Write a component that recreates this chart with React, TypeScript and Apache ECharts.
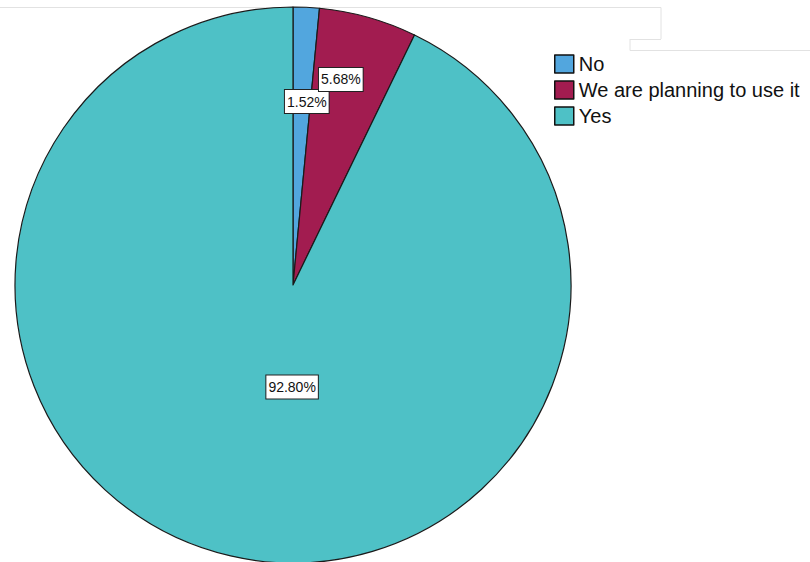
import React, { useEffect, useRef } from "react";
import * as echarts from "echarts";

const categories = ["No", "We are planning to use it", "Yes"];
const values = [1.52, 5.68, 92.8];
const colors = ["#52A6DE", "#A21C50", "#4EC1C6"];
// label anchor positions (polar: degrees clockwise from top, radius in px) — layout only
const labelPolar = [
  { angle: 4.3, r: 184 },
  { angle: 13.1, r: 211 },
  { angle: 180.5, r: 102 },
];

const CX = 293;
const CY = 285;
const R = 278;

export default function App() {
  const ref = useRef<HTMLDivElement>(null);
  useEffect(() => {
    if (!ref.current) return;
    const chart = echarts.init(ref.current, undefined, { renderer: "svg" });
    chart.setOption({
      animation: false,
      backgroundColor: "#ffffff",
      textStyle: { fontFamily: "Liberation Sans, Arial, sans-serif" },
      legend: {
        orient: "vertical",
        left: 549,
        top: 49,
        icon: "rect",
        itemWidth: 19,
        itemHeight: 18,
        itemGap: 6,
        textStyle: { fontSize: 20, color: "#111", fontFamily: "Liberation Sans, Arial, sans-serif" },
        itemStyle: { borderColor: "#111", borderWidth: 1.5 },
        data: categories,
      },
      graphic: [
        { type: "line", shape: { x1: 0, y1: 7.5, x2: 661, y2: 7.5 }, style: { stroke: "#e2e2e2", lineWidth: 1 } },
        { type: "line", shape: { x1: 661, y1: 7.5, x2: 661, y2: 39 }, style: { stroke: "#e2e2e2", lineWidth: 1 } },
        { type: "line", shape: { x1: 630, y1: 39.5, x2: 661, y2: 39.5 }, style: { stroke: "#e2e2e2", lineWidth: 1 } },
        { type: "line", shape: { x1: 630, y1: 39, x2: 630, y2: 50.5 }, style: { stroke: "#e2e2e2", lineWidth: 1 } },
        { type: "line", shape: { x1: 630, y1: 50.5, x2: 810, y2: 50.5 }, style: { stroke: "#e2e2e2", lineWidth: 1 } },
      ],
      series: [
        {
          type: "pie",
          center: [CX, CY],
          radius: [0, R],
          startAngle: 90,
          clockwise: true,
          avoidLabelOverlap: false,
          itemStyle: { borderColor: "#1a1a1a", borderWidth: 1.2 },
          emphasis: { disabled: true },
          label: {
            show: true,
            position: "inside",
            formatter: (p: any) => p.value.toFixed(2) + "%",
            fontSize: 14,
            lineHeight: 16,
            color: "#111",
            fontFamily: "Liberation Sans, Arial, sans-serif",
            backgroundColor: "#ffffff",
            borderColor: "#222",
            borderWidth: 1,
            padding: [4, 2, 3, 2],
          },
          labelLine: { show: false },
          labelLayout: (params: any) => {
            const lp = labelPolar[params.dataIndex];
            const a = (lp.angle * Math.PI) / 180;
            return {
              x: CX + lp.r * Math.sin(a),
              y: CY - lp.r * Math.cos(a),
              align: "center",
              verticalAlign: "middle",
            };
          },
          data: categories.map((name, i) => ({
            name,
            value: values[i],
            itemStyle: { color: colors[i] },
          })),
        },
      ],
    });
    return () => chart.dispose();
  }, []);
  return (
    <div
      ref={ref}
      style={{ position: "fixed", left: 0, top: 0, width: 810, height: 562 }}
    />
  );
}
